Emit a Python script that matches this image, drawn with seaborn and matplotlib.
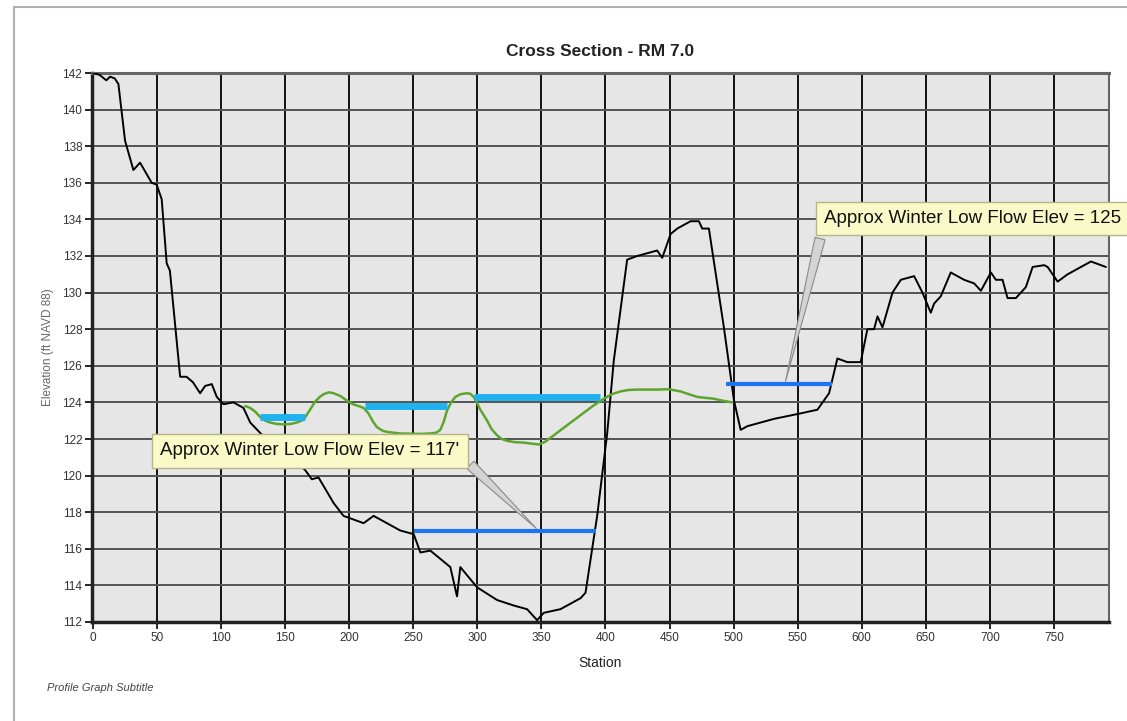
import matplotlib
matplotlib.use("Agg")
import matplotlib.pyplot as plt
from matplotlib.lines import Line2D
import seaborn as sns
import pandas as pd

# ---- data ----
ground_station = [0, 5, 10.4, 13.3, 17, 19.8, 25, 31.5, 36.7, 45.8, 49.7, 53.6, 57.5, 60, 68, 73, 78,
                  83.6, 87.5, 92.7, 96.6, 101.8, 109.6, 117.4, 122.7, 135, 150, 165.6, 170.8, 176,
                  187.8, 195.5, 211.2, 219, 239.8, 250.3, 255.5, 263.3, 278.9, 284.1, 286.7, 299.7,
                  315.4, 328.4, 338.8, 346.6, 351.8, 364.8, 380.5, 384.4, 393.5, 401.3, 406.5, 416.9,
                  424.7, 440.3, 444.3, 450.8, 456, 466.4, 472.9, 475.5, 480.7, 492.4, 500.3, 505.5,
                  510.7, 531.5, 552.3, 565.4, 574.5, 581, 588.8, 599.2, 604.4, 609.6, 612.3, 616.2,
                  624, 630.5, 640.9, 647.4, 653.9, 656.5, 661.7, 669.5, 679.9, 687.8, 693, 700.8,
                  704.7, 709.9, 713.8, 720.3, 728.1, 733.4, 742.4, 745.1, 752.9, 760.7, 768.5,
                  778.9, 786.7, 790.6]
ground_elev = [142.0, 141.9, 141.6, 141.8, 141.7, 141.4, 138.3, 136.7, 137.1, 136.0, 135.9, 135.1,
               131.6, 131.2, 125.4, 125.4, 125.1, 124.5, 124.9, 125.0, 124.3, 123.9, 124.0, 123.7,
               122.9, 122.0, 121.3, 120.3, 119.8, 119.9, 118.5, 117.8, 117.4, 117.8, 117.0, 116.8,
               115.8, 115.9, 115.0, 113.4, 115.0, 113.9, 113.2, 112.9, 112.7, 112.1, 112.5, 112.7,
               113.3, 113.6, 117.8, 122.3, 126.3, 131.8, 132.0, 132.3, 131.9, 133.2, 133.5, 133.9,
               133.9, 133.5, 133.5, 128.1, 124.1, 122.5, 122.7, 123.1, 123.4, 123.6, 124.5, 126.4,
               126.2, 126.2, 128.0, 128.0, 128.7, 128.1, 130.0, 130.7, 130.9, 130.0, 128.9, 129.4,
               129.8, 131.1, 130.7, 130.5, 130.1, 131.1, 130.7, 130.7, 129.7, 129.7, 130.3, 131.4,
               131.5, 131.4, 130.6, 131.0, 131.3, 131.7, 131.5, 131.4]

ws_station = [118.8, 122.7, 126.5, 130.5, 134.5, 138.3, 143.5, 148.7, 154, 159.1, 164.3, 168.5,
              173.4, 177, 180, 184, 187.8, 193, 198.2, 203, 207.3, 211.2, 215, 218.5, 221.6, 226,
              230, 239.8, 255, 263.3, 268, 271.1, 273.5, 276.3, 279.5, 282.8, 287, 291.9, 294.5,
              297.1, 299.5, 302.3, 305, 307.6, 311, 315.4, 319, 323.2, 329, 336.2, 342, 347.9,
              353, 359.6, 370, 380.5, 390, 398.7, 405, 411.7, 418, 424.7, 432, 440.3, 449.4,
              458.6, 465, 471.6, 478, 484.6, 491, 498.9]
ws_elev = [123.8, 123.7, 123.5, 123.2, 123.0, 122.9, 122.82, 122.8, 122.82, 122.9, 123.05, 123.5,
           124.05, 124.3, 124.45, 124.55, 124.5, 124.35, 124.1, 123.9, 123.8, 123.7, 123.4,
           122.95, 122.65, 122.45, 122.38, 122.3, 122.28, 122.3, 122.35, 122.5, 122.9, 123.55,
           124.0, 124.3, 124.45, 124.5, 124.47, 124.3, 124.0, 123.6, 123.3, 123.0, 122.55,
           122.2, 122.0, 121.9, 121.83, 121.8, 121.75, 121.7, 121.85, 122.2, 122.75, 123.3,
           123.8, 124.2, 124.45, 124.6, 124.68, 124.7, 124.7, 124.7, 124.72, 124.6, 124.45,
           124.3, 124.25, 124.2, 124.1, 124.0]

pool_start = [130.5, 212.5, 297]
pool_end = [165.6, 276.3, 396]
pool_elev = [123.2, 123.8, 124.3]

low_start = [250.3, 493.8]
low_end = [392.2, 577.1]
low_elev = [117.0, 125.0]
low_labels = ["Approx Winter Low Flow Elev = 117'", "Approx Winter Low Flow Elev = 125"]
low_label_pos = [(52.5, 121.35), (570.5, 134.05)]
low_label_target = [(347.6, 117.0), (540.0, 125.0)]

x_ticks = list(range(0, 751, 50))
y_ticks = list(range(112, 143, 2))

# ---- style ----
sns.set_style("white")
plt.rcParams["font.family"] = ["Liberation Sans", "DejaVu Sans"]

fig = plt.figure(figsize=(11.27, 7.21), dpi=100)
ax = fig.add_axes([92 / 1127, 1 - 622 / 721, (1109 - 92) / 1127, (622 - 73) / 721])
ax.set_facecolor("#e6e6e6")

ground = pd.DataFrame({"Station": ground_station, "Elevation": ground_elev})
ws = pd.DataFrame({"Station": ws_station, "Elevation": ws_elev})

sns.lineplot(data=ground, x="Station", y="Elevation", sort=False, estimator=None,
             color="black", lw=1.4, ax=ax, zorder=4)
sns.lineplot(data=ws, x="Station", y="Elevation", sort=False, estimator=None,
             color="#5ea52f", lw=1.8, ax=ax, zorder=5)

ax.hlines(pool_elev, pool_start, pool_end, colors="#1fb2ee", lw=5, zorder=6)
ax.hlines(low_elev, low_start, low_end, colors="#1f74ef", lw=3, zorder=6)

ax.set_xlim(-0.8, 793)
ax.set_ylim(112, 142)
ax.set_xticks(x_ticks)
ax.set_yticks(y_ticks)
ax.grid(False)
for xv in x_ticks[1:]:
    ax.axvline(xv, color="#111111", lw=1.4, zorder=1)
for yv in y_ticks[1:-1]:
    ax.axhline(yv, color="#555555", lw=1.4, zorder=1)

for s in ax.spines.values():
    s.set_color("#222222")
    s.set_linewidth(1.5)
ax.spines["top"].set_color("#666666")
ax.spines["right"].set_color("#666666")
ax.spines["top"].set_linewidth(2.2)
ax.spines["bottom"].set_linewidth(2.5)
ax.spines["left"].set_linewidth(2.5)

ax.tick_params(axis="both", direction="out", length=5, width=1.2, color="black",
               labelsize=8.5, labelcolor="#333333", pad=2,
               bottom=True, left=True)

ax.set_xlabel("Station", fontsize=10, color="#222222", labelpad=9)
ax.set_ylabel("Elevation (ft NAVD 88)", fontsize=8.5, color="#666666", labelpad=6)
ax.set_title("Cross Section - RM 7.0", fontsize=12.5, fontweight="bold", color="#222222", pad=12)

for txt, pos, tgt, rel in zip(low_labels, low_label_pos, low_label_target, [(1.0, 0.3), (0.0, 0.25)]):
    ax.annotate(txt, xy=tgt, xytext=pos, textcoords="data", ha="left", va="center",
                fontsize=13.5, color="#111111", zorder=10, annotation_clip=False,
                bbox=dict(boxstyle="square,pad=0.45", fc="#fafac8", ec="#b5b58a", lw=1),
                arrowprops=dict(arrowstyle="wedge,tail_width=0.55,shrink_factor=0.5",
                                fc="#d4d4d4", ec="#8a8a8a", lw=0.8, relpos=rel))

fig.text(47 / 1127, 1 - 688 / 721, "Profile Graph Subtitle", fontsize=8, style="italic",
         color="#444444", ha="left", va="center")

fig.add_artist(Line2D([14 / 1127, 1.0], [1 - 7 / 721, 1 - 7 / 721], color="#b0b0b0", lw=1.5))
fig.add_artist(Line2D([14 / 1127, 14 / 1127], [0, 1 - 7 / 721], color="#b0b0b0", lw=1.5))

fig.savefig("out.png", dpi=100, facecolor="white")
